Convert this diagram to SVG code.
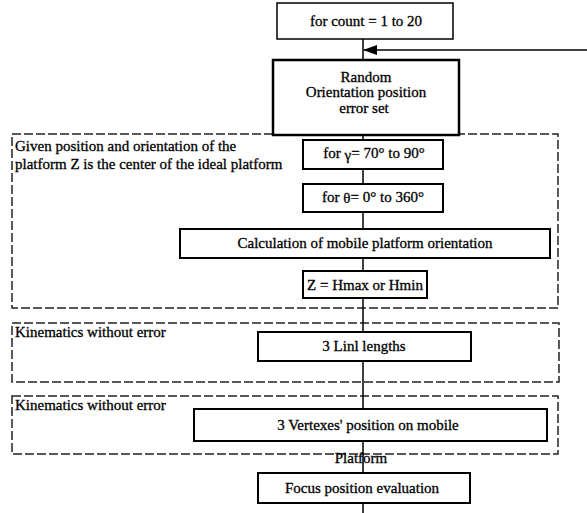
<svg xmlns="http://www.w3.org/2000/svg" width="587" height="513" viewBox="0 0 587 513">
<defs>
<marker id="ah" markerWidth="14" markerHeight="10" refX="13" refY="5" orient="auto" markerUnits="userSpaceOnUse">
<path d="M0,0 L14,5 L0,10 Z" fill="#000"/>
</marker>
<style>
text{font-family:'Liberation Serif','Times New Roman','DejaVu Serif',serif;font-size:15px;fill:#000;stroke:#000;stroke-width:0.3}
.c{text-anchor:middle}
.box{fill:#fff;stroke:#000;stroke-width:2}
.thin{stroke-width:1.5}
.thick{stroke-width:2.5}
.grp{fill:none;stroke:#222;stroke-width:1.5;stroke-dasharray:9,3}
.ln{fill:none;stroke:#000;stroke-width:1.5}
</style>
</defs>
<rect width="587" height="513" fill="#fff"/>
<g id="groups">
<rect class="grp" x="12" y="134" width="546" height="174"/>
<text x="15" y="151">Given position and orientation of the</text>
<text x="15" y="169">platform Z is the center of the ideal platform</text>
<rect class="grp" x="12" y="323" width="547" height="59"/>
<text x="15" y="337">Kinematics without error</text>
<rect class="grp" x="12" y="396" width="546" height="58"/>
<text x="15" y="410">Kinematics without error</text>
</g>
<g id="connectors">
<line class="ln" x1="363" y1="39" x2="363" y2="513"/>
<line class="ln" x1="587" y1="50" x2="364" y2="50" marker-end="url(#ah)"/>
</g>
<g id="n_count"><rect class="box thin" x="277" y="3" width="176" height="36"/><text class="c" x="366" y="26">for count = 1 to 20</text></g>
<g id="n_random"><rect class="box thick" x="273" y="60" width="186" height="75"/>
<text class="c" x="366" y="82">Random</text><text class="c" x="366" y="97">Orientation position</text><text class="c" x="364" y="113" font-size="14">error set</text></g>
<g id="n_gamma"><rect class="box" x="303" y="140" width="140" height="29"/><text class="c" x="374" y="158">for <tspan dy="2">γ</tspan><tspan dy="-2">= 70° to 90°</tspan></text></g>
<g id="n_theta"><rect class="box" x="303" y="184" width="140" height="28"/><text class="c" x="373" y="202">for <tspan dy="1">θ</tspan><tspan dy="-1">= 0° to 360°</tspan></text></g>
<g id="n_calc"><rect class="box" x="180" y="229" width="370" height="29"/><text class="c" x="365" y="248">Calculation of mobile platform orientation</text></g>
<g id="n_z"><rect class="box" x="303" y="271" width="124" height="27"/><text class="c" x="365" y="290">Z = Hmax or Hmin</text></g>
<g id="n_linl"><rect class="box" x="258" y="332" width="213" height="29"/><text class="c" x="364" y="351">3 Linl lengths</text></g>
<g id="n_vertex"><rect class="box" x="194" y="409" width="353" height="32"/><text class="c" x="368" y="430">3 Vertexes' position on mobile</text></g>
<text class="c" x="361" y="463">Platform</text>
<g id="n_focus"><rect class="box" x="258" y="473" width="212" height="30"/><text class="c" x="362" y="493">Focus position evaluation</text></g>
</svg>
